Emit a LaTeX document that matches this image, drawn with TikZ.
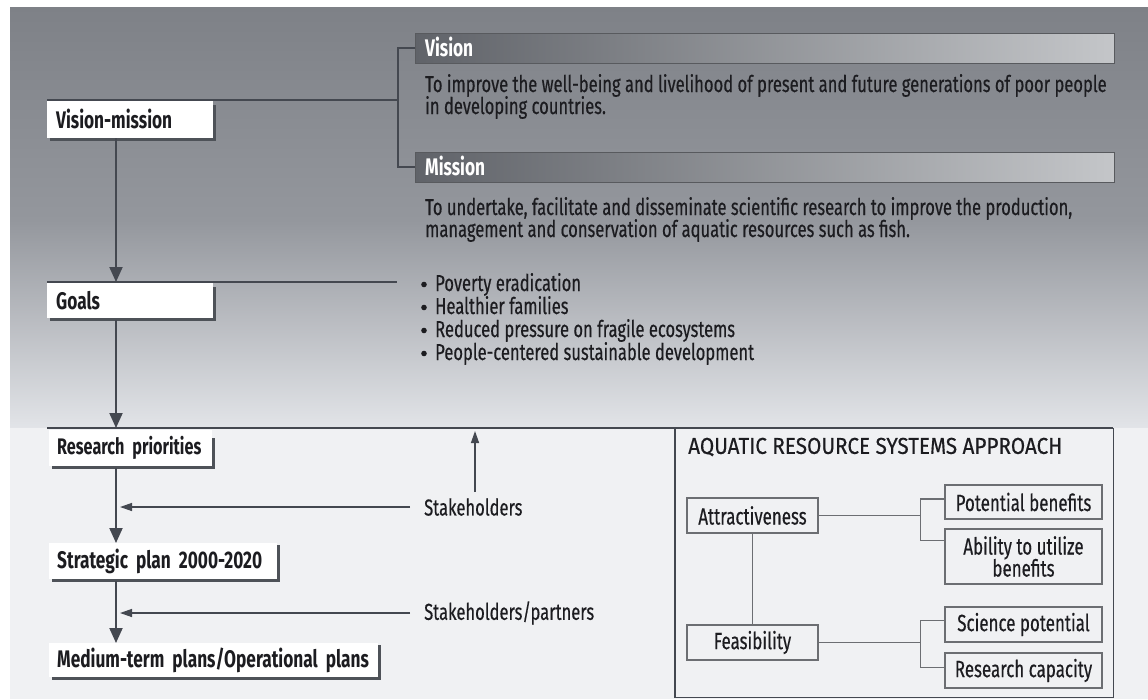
\documentclass[tikz,border=0pt]{standalone}
\usepackage{fontspec}
\setmainfont[FakeStretch=0.72]{Fira Sans}
\newfontfamily\regfnt[FakeStretch=0.72,FakeBold=0.4]{Fira Sans}
\newfontfamily\bldfnt[FakeStretch=0.72]{Fira Sans}
\newfontfamily\widefnt[FakeStretch=0.9,FakeBold=0.4]{Fira Sans}
\usetikzlibrary{arrows.meta,calc}
\definecolor{bgtop}{RGB}{126,129,135}
\definecolor{bgmid}{RGB}{148,151,157}
\definecolor{bgbot}{RGB}{226,228,232}
\definecolor{bglow}{RGB}{240,241,243}
\definecolor{barl}{RGB}{96,99,105}
\definecolor{barr}{RGB}{196,198,201}
\definecolor{barb}{RGB}{88,90,94}
\definecolor{linec}{RGB}{68,72,80}
\definecolor{shadc}{RGB}{78,82,88}
\definecolor{txt}{RGB}{28,28,32}
\definecolor{boxc}{RGB}{108,110,114}
\newcommand\bodyfnt{\regfnt\fontsize{23}{23}\selectfont}
\newcommand\boldfnt{\bldfnt\bfseries\fontsize{24}{24}\selectfont}
\newcommand\arsafnt{\regfnt\fontsize{23.5}{23}\selectfont}
\newcommand\titlefnt{\widefnt\fontsize{23}{23}\selectfont}
\begin{document}
\begin{tikzpicture}[x=1pt,y=-1pt,
  conn/.style={draw=linec, line width=1.8pt},
  flow/.style={draw=linec, line width=2pt, -{Triangle[width=13pt,length=15pt]}},
  thinarrow/.style={draw=linec, line width=1.3pt, -{Triangle[width=8pt,length=12pt]}},
  lbl/.style={inner sep=0pt, anchor=base west, text=txt, font=\bodyfnt},
  bulletdot/.style={fill=txt},
  mainbox/.style={fill=white, inner ysep=0pt, inner xsep=9pt, anchor=north west, align=left, text=txt, font=\boldfnt},
  shadowl/.style={draw=shadc, line width=3pt},
  barbox/.style={left color=barl, right color=barr, draw=barb, line width=0.6pt, anchor=north west, inner sep=0pt, minimum width=699pt, minimum height=30pt},
  barlbl/.style={inner sep=0pt, anchor=base west, text=white, font=\boldfnt},
  abox/.style={draw=boxc, line width=1.4pt, inner sep=0pt, align=center, text=txt, font=\arsafnt},
  aconn/.style={draw=boxc, line width=1.4pt}
]
\useasboundingbox (0,0) rectangle (1148,699);
\fill[white] (0,0) rectangle (1148,699);
\shade[top color=bgtop, bottom color=bgmid] (10,7) rectangle (1148,221);
\shade[top color=bgmid, bottom color=bgbot] (10,220) rectangle (1148,428);
\fill[bglow] (10,428) rectangle (1148,699);

% top part
\node[mainbox, minimum width=166pt, minimum height=38pt, text width=148pt] (vm) at (47,100) {\mbox{Vision-mission}};
\draw[shadowl] ($(vm.north east)+(1.5,5)$) -- ($(vm.south east)+(1.5,1.5)$) -- ($(vm.south west)+(3,1.5)$);

\node[barbox] (visbar) at (415,33) {};
\node[barlbl] (vislbl) at (425,56) {Vision};
\node[barbox] (misbar) at (415,152) {};
\node[barlbl] (mislbl) at (425,175) {Mission};

\coordinate (brk) at (398,100);
\draw[conn] (vm.north west) -- (brk);
\draw[conn] (visbar.west) -- ++(-17,0) |- (misbar.west);

\node[lbl] (v1) at (425,92) {To improve the well-being and livelihood of present and future generations of poor people};
\node[lbl] (v2) at (425,114) {in developing countries.};
\node[lbl] (m1) at (425,215) {To undertake, facilitate and disseminate scientific research to improve the production,};
\node[lbl] (m2) at (425,237) {management and conservation of aquatic resources such as fish.};

\node[mainbox, minimum width=166pt, minimum height=36pt, text width=148pt] (goals) at (47,282) {\mbox{Goals}};
\draw[shadowl] ($(goals.north east)+(1.5,5)$) -- ($(goals.south east)+(1.5,1.5)$) -- ($(goals.south west)+(3,1.5)$);
\coordinate (gl) at (397,282);
\draw[conn] (goals.north west) -- (gl);

\node[lbl] (g1) at (435,291) {Poverty eradication};
\node[lbl] (g2) at (435,314) {Healthier families};
\node[lbl] (g3) at (435,337) {Reduced pressure on fragile ecosystems};
\node[lbl] (g4) at (435,360) {People-centered sustainable development};
\foreach \g in {g1,g2,g3,g4}
  \fill[bulletdot] ($(\g.base west)+(-11,-6.5)$) circle (2.8);

% lower part
\node[draw=none, inner sep=0pt, minimum width=438pt, minimum height=269pt, anchor=north west] (arsa) at (675,428) {};
\draw[draw=linec, line width=1.8pt] (arsa.north east) -- (arsa.south east) -- (arsa.south west) -- (arsa.north west);
\coordinate (sepl) at (47,428);
\draw[conn] (sepl) -- (arsa.north east);

\node[mainbox, minimum width=163pt, minimum height=36pt, text width=147pt, inner xsep=8pt] (rp) at (49,430) {\mbox{\fontsize{22.5}{22}\selectfont Research priorities}};
\draw[shadowl] ($(rp.north east)+(1.5,8)$) -- ($(rp.south east)+(1.5,1.5)$) -- ($(rp.south west)+(3,1.5)$);
\node[mainbox, minimum width=228pt, minimum height=36pt, text width=212pt, inner xsep=8pt] (sp20) at (49,543) {\mbox{Strategic plan 2000-2020}};
\draw[shadowl] ($(sp20.north east)+(1.5,2)$) -- ($(sp20.south east)+(1.5,1.5)$) -- ($(sp20.south west)+(3,1.5)$);
\node[mainbox, minimum width=329pt, minimum height=34pt, text width=313pt, inner xsep=8pt] (mt) at (49,643) {\mbox{Medium-term plans/Operational plans}};
\draw[shadowl] ($(mt.north east)+(1.5,2)$) -- ($(mt.south east)+(1.5,1.5)$) -- ($(mt.south west)+(3,1.5)$);

\coordinate (fx) at (116,0);
\draw[flow] (vm.south west -| fx) -- (goals.north west -| fx);
\draw[flow] ($(goals.south west -| fx)+(0,1.5)$) -- (sepl -| fx);
\draw[flow] ($(rp.south west -| fx)+(0,1.5)$) -- (sp20.north west -| fx);
\draw[flow] ($(sp20.south west -| fx)+(0,1.5)$) -- (mt.north west -| fx);

\node[lbl, anchor=west] (sh1) at (424,507) {Stakeholders};
\coordinate (t1) at (120,507);
\draw[thinarrow] ($(sh1.west)+(-14,0)$) -- (t1);
\coordinate (up1) at (475,431);
\draw[thinarrow] (475,492) -- (up1);
\node[lbl, anchor=west] (sh2) at (424,613) {Stakeholders/partners};
\coordinate (t2) at (120,613);
\draw[thinarrow] ($(sh2.west)+(-14,0)$) -- (t2);

% ARSA
\node[inner sep=0pt, anchor=west, text=txt, font=\titlefnt] (title) at (688,447) {AQUATIC RESOURCE SYSTEMS APPROACH};
\node[abox, minimum width=131pt, minimum height=35pt] (attr) at (752.5,515.5) {Attractiveness};
\node[abox, minimum width=131pt, minimum height=35pt] (feas) at (752.5,642.5) {Feasibility};
\node[abox, minimum width=157pt, minimum height=34pt] (pb) at (1023.5,502) {Potential benefits};
\node[abox, minimum width=157pt, minimum height=55pt] (ab) at (1023.5,556.5) {Ability to utilize\\[-1pt]benefits};
\node[abox, minimum width=157pt, minimum height=35pt] (sci) at (1023.5,624.5) {Science potential};
\node[abox, minimum width=157pt, minimum height=35pt] (rc) at (1023.5,670.5) {Research capacity};

\draw[aconn] (attr.south) -- (feas.north);
\coordinate (j1) at (921,515.5);
\draw[aconn] (attr.east) -- (j1);
\coordinate (abt) at ($(ab.north west)+(0,12)$);
\draw[aconn] ($(pb.west)+(0,-3)$) -- ++(-24,0) |- (abt);
\coordinate (j2) at (921,642.5);
\draw[aconn] (feas.east) -- (j2);
\draw[aconn] ($(sci.west)+(0,-4)$) -- ++(-24,0) |- ($(rc.west)+(0,-3)$);
\end{tikzpicture}
\end{document}
